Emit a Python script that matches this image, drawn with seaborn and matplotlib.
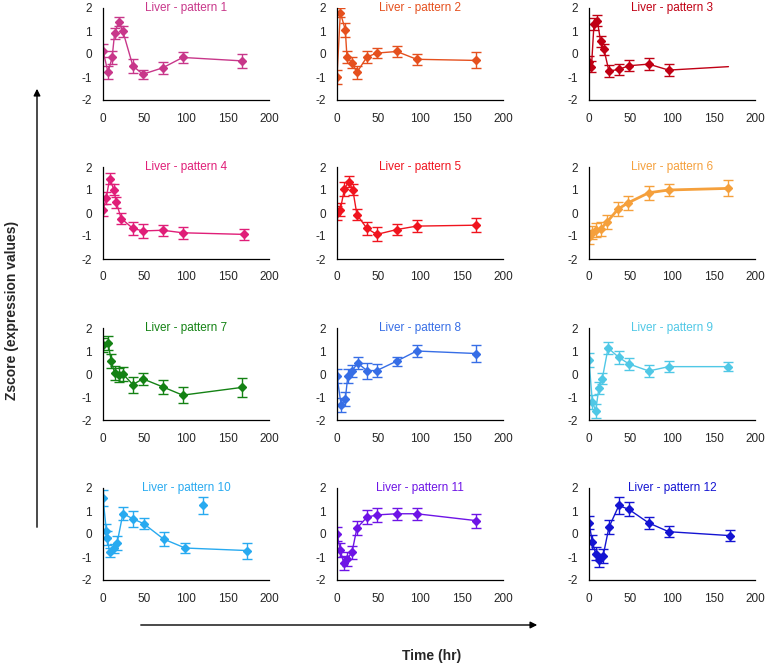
import numpy as np
import pandas as pd
import matplotlib
matplotlib.use("Agg")
from matplotlib import pyplot as plt
from matplotlib.patches import FancyArrowPatch
import seaborn as sns

# time points (hr) and zscores per liver pattern
times = {
    1: [0, 6, 11, 14, 19, 24, 36, 48, 72, 96, 168],
    2: [0, 4, 10, 12, 18, 24, 36, 48, 72, 96, 168],
    3: [0, 3, 6, 10, 14, 18, 24, 36, 48, 72, 96, 168],
    4: [0, 4, 8, 13, 16, 22, 36, 48, 72, 96, 170],
    5: [0, 4, 9, 14, 19, 24, 36, 48, 72, 96, 168],
    6: [0, 4, 9, 14, 22, 35, 47, 72, 96, 168],
    7: [0, 6, 10, 14, 19, 24, 36, 48, 72, 96, 168],
    8: [0, 5, 10, 13, 18, 25, 36, 48, 72, 96, 168],
    9: [0, 4, 8, 12, 16, 23, 36, 48, 72, 96, 168],
    10: [0, 4, 5, 8, 13, 17, 24, 36, 49, 73, 99, 174],
    11: [0, 4, 8, 12, 18, 24, 36, 48, 72, 96, 168],
    12: [0, 4, 8, 12, 17, 24, 36, 48, 72, 96, 170],
}
zscore = {
    1: [0.15, -0.8, -0.15, 0.9, 1.4, 0.98, -0.52, -0.88, -0.6, -0.15, -0.3],
    2: [-1.0, 1.8, 1.05, -0.13, -0.38, -0.8, -0.13, 0.04, 0.11, -0.23, -0.28],
    3: [-0.35, -0.55, 1.3, 1.45, 0.55, 0.2, -0.74, -0.67, -0.51, -0.44, -0.7, -0.55],
    4: [0.12, 0.66, 1.5, 1.02, 0.46, -0.24, -0.67, -0.78, -0.75, -0.86, -0.93],
    5: [0.0, 0.15, 1.05, 1.36, 1.02, -0.07, -0.67, -0.93, -0.72, -0.57, -0.53],
    6: [-1.05, -0.85, -0.75, -0.7, -0.38, 0.17, 0.44, 0.88, 1.0, 1.07],
    7: [1.25, 1.36, 0.56, 0.04, -0.04, 0.0, -0.46, -0.21, -0.56, -0.92, -0.58],
    8: [-0.1, -1.35, -1.1, -0.1, 0.14, 0.47, 0.15, 0.15, 0.56, 1.0, 0.89],
    9: [0.6, -1.2, -1.6, -0.6, -0.2, 1.13, 0.72, 0.44, 0.13, 0.32, 0.32],
    10: [1.58, 0.15, -0.17, -0.79, -0.63, -0.39, 0.89, 0.66, 0.45, -0.22, -0.61, -0.72],
    11: [0.0, -0.7, -1.25, -1.1, -0.8, 0.25, 0.73, 0.83, 0.88, 0.88, 0.58],
    12: [0.5, -0.35, -0.85, -1.15, -0.95, 0.29, 1.24, 1.07, 0.48, 0.1, -0.07],
}
errors = {
    1: [0.3, 0.3, 0.3, 0.25, 0.2, 0.25, 0.3, 0.2, 0.25, 0.25, 0.3],
    2: [0.3, 0.2, 0.3, 0.25, 0.25, 0.3, 0.25, 0.2, 0.25, 0.25, 0.35],
    3: [0.25, 0.25, 0.25, 0.25, 0.25, 0.25, 0.25, 0.25, 0.25, 0.25, 0.25, np.nan],
    4: [0.25, 0.25, 0.25, 0.25, 0.25, 0.25, 0.3, 0.3, 0.25, 0.25, 0.25],
    5: [0.3, 0.3, 0.3, 0.25, 0.25, 0.25, 0.3, 0.3, 0.25, 0.25, 0.3],
    6: [0.3, 0.3, 0.3, 0.3, 0.3, 0.3, 0.3, 0.3, 0.25, 0.35],
    7: [0.3, 0.3, 0.3, 0.3, 0.3, 0.3, 0.35, 0.25, 0.3, 0.35, 0.4],
    8: [0.3, 0.3, 0.3, 0.3, 0.25, 0.25, 0.35, 0.3, 0.2, 0.25, 0.35],
    9: [0.3, 0.3, 0.3, 0.25, 0.25, 0.25, 0.3, 0.25, 0.25, 0.25, 0.2],
    10: [0.35, 0.3, 0.3, 0.2, 0.2, 0.3, 0.3, 0.35, 0.25, 0.3, 0.2, 0.35],
    11: [0.3, 0.3, 0.3, 0.3, 0.3, 0.3, 0.3, 0.3, 0.25, 0.25, 0.3],
    12: [0.3, 0.3, 0.3, 0.3, 0.3, 0.3, 0.35, 0.3, 0.25, 0.25, 0.25],
}
# pattern 10 has one point that is not joined to the line
extra_time = [121]
extra_z = [1.24]
extra_err = [0.35]

colors = {
    1: "#c8378a", 2: "#e5501e", 3: "#c00014", 4: "#e01e78",
    5: "#f0141e", 6: "#f5a03c", 7: "#148214", 8: "#376ee6",
    9: "#50c8e6", 10: "#28aaf0", 11: "#6e14e6", 12: "#1414d2",
}

sns.set_theme(style="white")
plt.rcParams["font.family"] = ["Liberation Sans", "DejaVu Sans"]
plt.rcParams["axes.unicode_minus"] = False

W, H = 769, 670
fig = plt.figure(figsize=(W / 100, H / 100), dpi=100)

col_x = [103, 337, 589]
row_top = [8, 167, 328, 488]
ax_w, ax_h = 166, 92

for k in range(1, 13):
    r, c = (k - 1) // 3, (k - 1) % 3
    ax = fig.add_axes([col_x[c] / W, 1 - (row_top[r] + ax_h) / H, ax_w / W, ax_h / H])
    col = colors[k]
    df = pd.DataFrame({"t": times[k], "z": zscore[k], "e": errors[k]})
    lw = 2.0 if k == 6 else 1.0
    sns.lineplot(data=df, x="t", y="z", ax=ax, color=col, lw=lw, sort=False)
    d = df.dropna()
    ax.errorbar(d["t"], d["z"], yerr=d["e"], fmt="D", ms=4, color=col,
                ecolor=col, elinewidth=1, capsize=3.5, capthick=1)
    if k == 10:
        ax.errorbar(extra_time, extra_z, yerr=extra_err, fmt="D", ms=4, color=col,
                    ecolor=col, elinewidth=1, capsize=3.5, capthick=1)
    ax.set_xlim(0, 200)
    ax.set_ylim(-2, 2)
    ax.set_xticks([0, 50, 100, 150, 200])
    ax.set_yticks([-2, -1, 0, 1, 2])
    ax.set_xlabel("")
    ax.set_ylabel("")
    for s in ["top", "right"]:
        ax.spines[s].set_visible(False)
    for s in ["left", "bottom"]:
        ax.spines[s].set_color("black")
        ax.spines[s].set_linewidth(0.9)
    ax.tick_params(axis="x", direction="in", length=4, width=0.9, labelsize=8.5, pad=9, color="black")
    ax.tick_params(axis="y", direction="out", length=4, width=0.9, labelsize=8.5, pad=4, color="black")
    ax.text(0.5, 1.0, f"Liver - pattern {k}", transform=ax.transAxes, ha="center",
            va="center", fontsize=8.5, color=col)

# axis arrows and labels
fig.patches.append(FancyArrowPatch(
    (37 / W, 1 - 530 / H), (37 / W, 1 - 86 / H), transform=fig.transFigure,
    arrowstyle="-|>", mutation_scale=10, color="black", lw=1))
fig.patches.append(FancyArrowPatch(
    (138 / W, 1 - 625 / H), (540 / W, 1 - 625 / H), transform=fig.transFigure,
    arrowstyle="-|>", mutation_scale=10, color="black", lw=1))
fig.text(12 / W, 1 - 310 / H, "Zscore (expression values)", rotation=90, ha="center",
         va="center", fontsize=10, fontweight="bold")
fig.text(432 / W, 1 - 656 / H, "Time (hr)", ha="center", va="center",
         fontsize=10, fontweight="bold")

fig.savefig("out.png", dpi=100)
